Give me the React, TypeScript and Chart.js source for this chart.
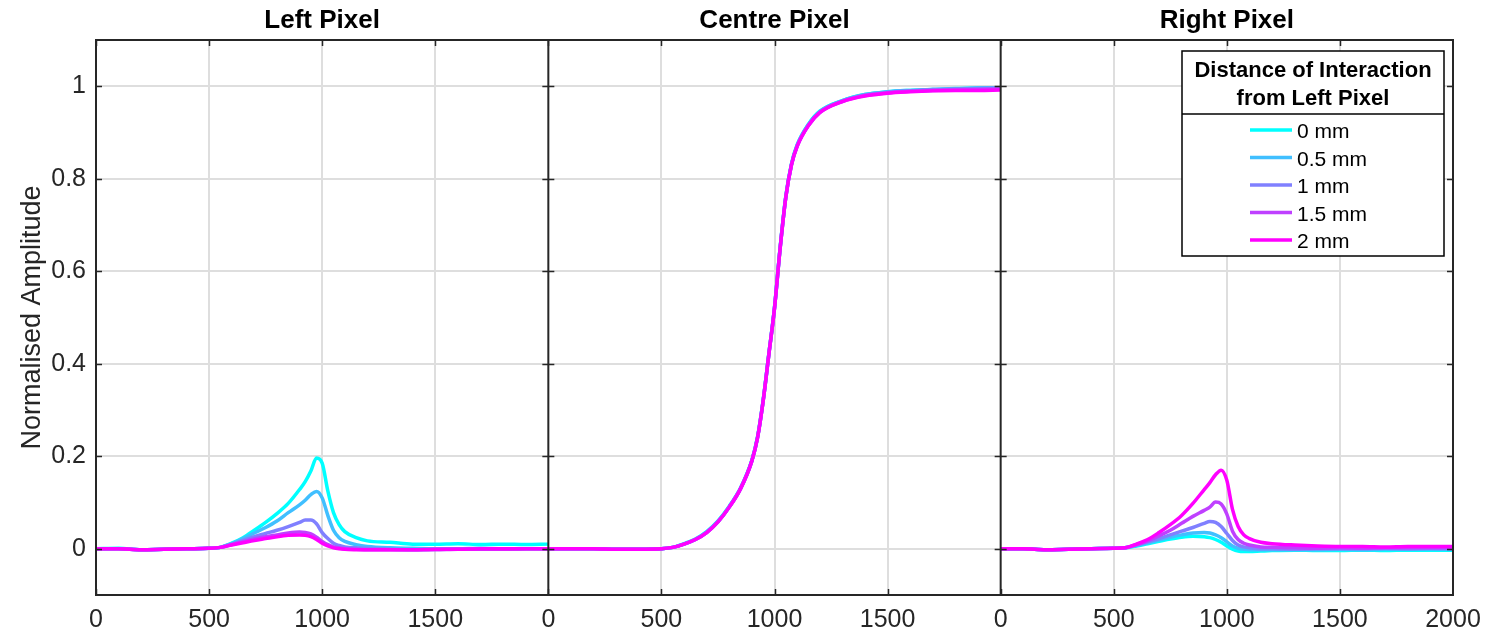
import React, { useEffect, useRef } from 'react';
import { Chart, registerables } from 'chart.js';

Chart.register(...registerables);

// ---- Data ----
const TIME = [0, 100, 200, 300, 400, 500, 550, 600, 650, 700, 750, 800, 850, 900, 925, 950, 975, 1000, 1025, 1050, 1075, 1100, 1150, 1200, 1300, 1400, 1500, 1600, 1700, 1800, 1900, 2000];

const PANEL_SPAN = 2000;
const PANEL_TITLES = ['Left Pixel', 'Centre Pixel', 'Right Pixel'];
const X_TICKS = [0, 500, 1000, 1500];
const Y_TICKS = [0, 0.2, 0.4, 0.6, 0.8, 1];
const Y_MIN = -0.1;
const Y_MAX = 1.1;

const SERIES_LABELS = ['0 mm', '0.5 mm', '1 mm', '1.5 mm', '2 mm'];
const SERIES_COLORS = ['#00ffff', '#40bfff', '#8080ff', '#bf40ff', '#ff00ff'];
const LEGEND_TITLE = ['Distance of Interaction', 'from Left Pixel'];
const Y_TITLE = 'Normalised Amplitude';

// Left pixel
const LEFT_0MM = [0, 0.001, -0.002, -0.001, 0, 0.001, 0.003, 0.012, 0.024, 0.040, 0.057, 0.076, 0.098, 0.128, 0.145, 0.168, 0.196, 0.185, 0.125, 0.078, 0.052, 0.037, 0.024, 0.017, 0.014, 0.010, 0.010, 0.011, 0.009, 0.010, 0.009, 0.010];
const LEFT_05MM = [0, 0, -0.002, -0.001, 0, 0.001, 0.003, 0.011, 0.022, 0.034, 0.046, 0.060, 0.078, 0.095, 0.105, 0.117, 0.124, 0.110, 0.072, 0.040, 0.024, 0.016, 0.009, 0.005, 0.002, 0.001, 0, 0, 0.001, 0, 0, 0];
const LEFT_1MM = [0, 0, -0.002, -0.001, 0, 0.001, 0.003, 0.010, 0.018, 0.026, 0.033, 0.040, 0.048, 0.057, 0.062, 0.062, 0.054, 0.035, 0.022, 0.012, 0.007, 0.004, 0.002, 0.001, -0.001, -0.002, -0.001, 0, 0, -0.001, 0, 0];
const LEFT_15MM = [0, 0, -0.002, -0.001, 0, 0.001, 0.003, 0.009, 0.015, 0.021, 0.026, 0.030, 0.034, 0.036, 0.035, 0.032, 0.025, 0.016, 0.009, 0.004, 0.002, 0, -0.001, -0.002, -0.002, -0.002, -0.002, -0.001, -0.001, -0.001, 0, 0];
const LEFT_2MM = [0, 0, -0.002, -0.001, 0, 0.001, 0.003, 0.008, 0.013, 0.018, 0.022, 0.026, 0.029, 0.030, 0.029, 0.026, 0.020, 0.012, 0.006, 0.002, 0, -0.001, -0.002, -0.002, -0.002, -0.002, -0.001, -0.001, 0, 0, 0, 0];

// Centre pixel
const CENTRE_0MM = [0, 0, 0, -0.001, -0.001, 0, 0.003, 0.011, 0.021, 0.037, 0.060, 0.092, 0.132, 0.192, 0.242, 0.322, 0.422, 0.522, 0.652, 0.762, 0.832, 0.873, 0.918, 0.946, 0.969, 0.982, 0.988, 0.991, 0.993, 0.995, 0.996, 0.997];
const CENTRE_05MM = [0, 0, 0, -0.001, -0.001, 0, 0.003, 0.010, 0.020, 0.036, 0.059, 0.091, 0.131, 0.191, 0.241, 0.321, 0.421, 0.521, 0.651, 0.761, 0.831, 0.872, 0.917, 0.945, 0.969, 0.982, 0.988, 0.991, 0.993, 0.994, 0.996, 0.996];
const CENTRE_1MM = [0, 0, 0, -0.001, -0.001, 0, 0.003, 0.010, 0.020, 0.035, 0.058, 0.090, 0.130, 0.190, 0.240, 0.320, 0.420, 0.520, 0.650, 0.760, 0.830, 0.871, 0.916, 0.944, 0.968, 0.981, 0.987, 0.990, 0.993, 0.994, 0.995, 0.996];
const CENTRE_15MM = [0, 0, 0, -0.001, -0.001, 0, 0.003, 0.010, 0.020, 0.035, 0.058, 0.090, 0.130, 0.190, 0.240, 0.320, 0.420, 0.520, 0.650, 0.760, 0.830, 0.870, 0.915, 0.943, 0.967, 0.980, 0.986, 0.989, 0.991, 0.992, 0.993, 0.994];
const CENTRE_2MM = [0, 0, 0, -0.001, -0.001, 0, 0.003, 0.010, 0.020, 0.035, 0.058, 0.090, 0.130, 0.190, 0.240, 0.320, 0.420, 0.520, 0.650, 0.760, 0.830, 0.870, 0.915, 0.943, 0.967, 0.979, 0.985, 0.988, 0.990, 0.991, 0.991, 0.992];

// Right pixel
const RIGHT_0MM = [0, 0, -0.002, -0.001, 0, 0.001, 0.002, 0.006, 0.011, 0.016, 0.021, 0.025, 0.027, 0.026, 0.024, 0.020, 0.014, 0.006, -0.001, -0.005, -0.006, -0.006, -0.005, -0.004, -0.003, -0.004, -0.004, -0.003, -0.004, -0.003, -0.003, -0.003];
const RIGHT_05MM = [0, 0, -0.002, -0.001, 0, 0.001, 0.002, 0.007, 0.013, 0.019, 0.025, 0.030, 0.034, 0.035, 0.034, 0.030, 0.024, 0.015, 0.006, 0.001, -0.001, -0.002, -0.002, -0.002, -0.002, -0.002, -0.001, -0.002, -0.001, -0.001, -0.001, -0.001];
const RIGHT_1MM = [0, 0, -0.002, -0.001, 0, 0.001, 0.002, 0.008, 0.015, 0.022, 0.030, 0.038, 0.046, 0.055, 0.059, 0.057, 0.048, 0.033, 0.018, 0.008, 0.004, 0.002, 0, 0, -0.001, 0, 0, 0, 0.001, 0, 0.001, 0];
const RIGHT_15MM = [0, 0, -0.002, -0.001, 0, 0.001, 0.002, 0.009, 0.017, 0.028, 0.040, 0.055, 0.070, 0.083, 0.090, 0.101, 0.097, 0.075, 0.038, 0.020, 0.012, 0.008, 0.004, 0.003, 0.002, 0.001, 0.002, 0.001, 0.002, 0.002, 0.002, 0.002];
const RIGHT_2MM = [0, 0, -0.002, -0.001, 0, 0.001, 0.002, 0.010, 0.020, 0.035, 0.052, 0.072, 0.098, 0.128, 0.143, 0.160, 0.170, 0.148, 0.085, 0.048, 0.030, 0.022, 0.014, 0.011, 0.008, 0.006, 0.005, 0.005, 0.004, 0.005, 0.005, 0.005];

const LEFT = [LEFT_0MM, LEFT_05MM, LEFT_1MM, LEFT_15MM, LEFT_2MM];
const CENTRE = [CENTRE_0MM, CENTRE_05MM, CENTRE_1MM, CENTRE_15MM, CENTRE_2MM];
const RIGHT = [RIGHT_0MM, RIGHT_05MM, RIGHT_1MM, RIGHT_15MM, RIGHT_2MM];
const PANELS = [LEFT, CENTRE, RIGHT];

// ---- Styling ----
const FONT = '"Liberation Sans", Arial, Helvetica, sans-serif';
const AXIS_COLOR = '#262626';
const GRID_COLOR = '#dedede';

function buildDatasets() {
  return SERIES_LABELS.map((label, s) => {
    const data: any[] = [];
    PANELS.forEach((panel, p) => {
      if (p > 0) data.push({ x: p * PANEL_SPAN, y: null });
      TIME.forEach((t, i) => data.push({ x: p * PANEL_SPAN + t, y: panel[s][i] }));
    });
    return {
      label,
      data,
      order: SERIES_LABELS.length - s,
      borderColor: SERIES_COLORS[s],
      backgroundColor: SERIES_COLORS[s],
      borderWidth: 3.5,
      pointRadius: 0,
      fill: false,
      spanGaps: false,
      cubicInterpolationMode: 'monotone' as const,
    };
  });
}

const decorPlugin = {
  id: 'panelDecor',
  afterDatasetsDraw(chart: any) {
    const { ctx, chartArea, scales } = chart;
    const { left, right, top, bottom } = chartArea;
    const x = scales.x;
    const y = scales.y;
    ctx.save();
    ctx.strokeStyle = AXIS_COLOR;
    // inner tick marks
    ctx.lineWidth = 1.5;
    const L = 6;
    ctx.beginPath();
    for (let p = 0; p < PANELS.length; p++) {
      X_TICKS.forEach((t) => {
        const px = Math.round(x.getPixelForValue(p * PANEL_SPAN + t)) + 0.5;
        ctx.moveTo(px, top);
        ctx.lineTo(px, top + L);
        ctx.moveTo(px, bottom);
        ctx.lineTo(px, bottom - L);
      });
    }
    for (let b = 0; b <= PANELS.length; b++) {
      const bx = x.getPixelForValue(b * PANEL_SPAN);
      Y_TICKS.forEach((v) => {
        const py = Math.round(y.getPixelForValue(v)) + 0.5;
        if (b < PANELS.length) {
          ctx.moveTo(bx, py);
          ctx.lineTo(bx + L, py);
        }
        if (b > 0) {
          ctx.moveTo(bx - L, py);
          ctx.lineTo(bx, py);
        }
      });
    }
    ctx.stroke();
    // frame and panel separators
    ctx.lineWidth = 2;
    ctx.strokeRect(left, top, right - left, bottom - top);
    ctx.beginPath();
    for (let p = 1; p < PANELS.length; p++) {
      const px = x.getPixelForValue(p * PANEL_SPAN);
      ctx.moveTo(px, top);
      ctx.lineTo(px, bottom);
    }
    ctx.stroke();
    ctx.restore();
  },
  afterDraw(chart: any) {
    const { ctx, scales } = chart;
    const x = scales.x;
    ctx.save();
    // panel titles
    ctx.fillStyle = '#000';
    ctx.font = `bold 26px ${FONT}`;
    ctx.textAlign = 'center';
    ctx.textBaseline = 'alphabetic';
    PANEL_TITLES.forEach((title, p) => {
      const cx = (x.getPixelForValue(p * PANEL_SPAN) + x.getPixelForValue((p + 1) * PANEL_SPAN)) / 2;
      ctx.fillText(title, cx, 28);
    });
    // legend box
    const bx = 1182, by = 51, bw = 262, bh = 205, sep = 114;
    ctx.fillStyle = '#fff';
    ctx.fillRect(bx, by, bw, bh);
    ctx.strokeStyle = '#000';
    ctx.lineWidth = 1.5;
    ctx.strokeRect(bx, by, bw, bh);
    ctx.beginPath();
    ctx.moveTo(bx, sep);
    ctx.lineTo(bx + bw, sep);
    ctx.stroke();
    ctx.fillStyle = '#000';
    ctx.font = `bold 22px ${FONT}`;
    ctx.textAlign = 'center';
    LEGEND_TITLE.forEach((line, i) => ctx.fillText(line, bx + bw / 2, 77 + i * 28));
    ctx.font = `21px ${FONT}`;
    ctx.textAlign = 'left';
    chart.data.datasets.forEach((ds: any, i: number) => {
      const base = 138 + i * 27.5;
      ctx.strokeStyle = ds.borderColor;
      ctx.lineWidth = 3.5;
      ctx.beginPath();
      ctx.moveTo(1250, base - 8);
      ctx.lineTo(1292, base - 8);
      ctx.stroke();
      ctx.fillStyle = '#000';
      ctx.fillText(ds.label, 1297, base);
    });
    ctx.restore();
  },
};

export default function App() {
  const ref = useRef<HTMLCanvasElement>(null);
  useEffect(() => {
    if (!ref.current) return;
    const chart = new Chart(ref.current, {
      type: 'line',
      data: { datasets: buildDatasets() as any },
      plugins: [decorPlugin],
      options: {
        animation: false,
        responsive: false,
        devicePixelRatio: 1,
        layout: { padding: { top: 40, right: 40, left: 0, bottom: 0 } },
        plugins: { legend: { display: false }, tooltip: { enabled: false } },
        scales: {
          x: {
            type: 'linear',
            min: 0,
            max: PANELS.length * PANEL_SPAN,
            afterBuildTicks: (scale: any) => {
              const ticks: any[] = [];
              for (let p = 0; p < PANELS.length; p++) X_TICKS.forEach((t) => ticks.push({ value: p * PANEL_SPAN + t }));
              ticks.push({ value: PANELS.length * PANEL_SPAN });
              scale.ticks = ticks;
            },
            afterFit: (scale: any) => { scale.height = 39; },
            ticks: {
              autoSkip: false,
              maxRotation: 0,
              padding: 10,
              color: AXIS_COLOR,
              font: { family: FONT, size: 25 },
              callback: (v: any) => (v === PANELS.length * PANEL_SPAN ? String(PANEL_SPAN) : String(Number(v) % PANEL_SPAN)),
            },
            grid: {
              drawTicks: false,
              lineWidth: 2,
              color: (c: any) => (c.tick && c.tick.value % PANEL_SPAN === 0 ? 'rgba(0,0,0,0)' : GRID_COLOR),
            },
            border: { display: false },
          },
          y: {
            type: 'linear',
            min: Y_MIN,
            max: Y_MAX,
            afterBuildTicks: (scale: any) => { scale.ticks = Y_TICKS.map((v) => ({ value: v })); },
            afterFit: (scale: any) => { scale.width = 96; },
            ticks: {
              padding: 10,
              color: AXIS_COLOR,
              font: { family: FONT, size: 25 },
              callback: (v: any) => String(Math.round(Number(v) * 10) / 10),
            },
            grid: { drawTicks: false, lineWidth: 2, color: GRID_COLOR },
            border: { display: false },
            title: {
              display: true,
              text: Y_TITLE,
              color: AXIS_COLOR,
              font: { family: FONT, size: 27 },
              padding: { top: 16, bottom: 0 },
            },
          },
        },
      } as any,
    });
    return () => chart.destroy();
  }, []);
  return (
    <div style={{ position: 'absolute', left: 0, top: 0, width: 1493, height: 634, background: '#fff' }}>
      <canvas ref={ref} width={1493} height={634} style={{ display: 'block' }} />
    </div>
  );
}
